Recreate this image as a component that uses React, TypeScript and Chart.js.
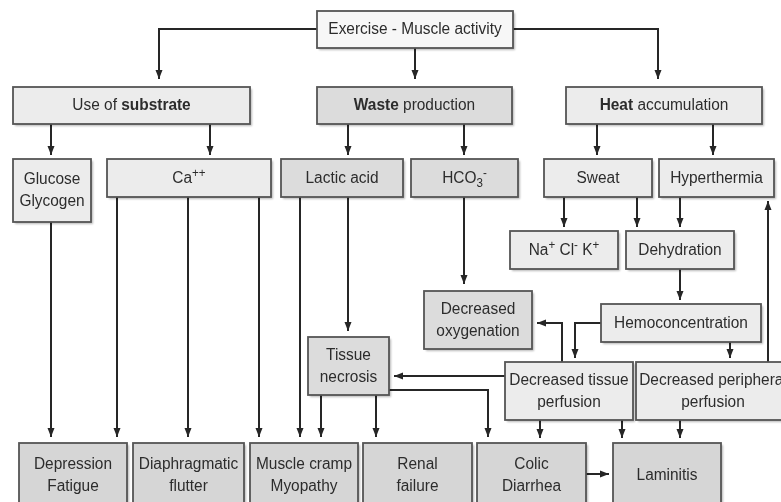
import React, { useEffect, useRef } from "react";
import { Chart, registerables } from "chart.js";

Chart.register(...registerables);

// ---- Data: flowchart nodes (label markup: *bold*, ^{sup}, _{sub}, \n new line)
const nodeLabels: string[] = [
  "Exercise - Muscle activity",
  "Use of *substrate*",
  "*Waste* production",
  "*Heat* accumulation",
  "Glucose\nGlycogen",
  "Ca^{++}",
  "Lactic acid",
  "HCO_{3}^{-}",
  "Sweat",
  "Hyperthermia",
  "Na^{+} Cl^{-} K^{+}",
  "Dehydration",
  "Hemoconcentration",
  "Decreased\noxygenation",
  "Tissue\nnecrosis",
  "Decreased tissue\nperfusion",
  "Decreased peripheral\nperfusion",
  "Depression\nFatigue",
  "Diaphragmatic\nflutter",
  "Muscle cramp\nMyopathy",
  "Renal\nfailure",
  "Colic\nDiarrhea",
  "Laminitis",
];
const nodeLeft: number[] = [317, 13, 317, 566, 13, 107, 281, 411, 544, 659, 510, 626, 601, 424, 308, 505, 636, 19, 133, 250, 363, 477, 613];
const nodeTop: number[] = [11, 87, 87, 87, 159, 159, 159, 159, 159, 159, 231, 231, 304, 291, 337, 362, 362, 443, 443, 443, 443, 443, 443];
const nodeRight: number[] = [513, 250, 512, 762, 91, 271, 403, 518, 652, 774, 618, 734, 761, 532, 389, 633, 790, 127, 244, 358, 472, 586, 721];
const nodeBottom: number[] = [48, 124, 124, 124, 222, 197, 197, 197, 197, 197, 269, 269, 342, 349, 395, 420, 420, 507, 507, 507, 507, 507, 507];
const nodeTone: number[] = [0, 1, 2, 1, 1, 1, 2, 2, 1, 1, 1, 1, 1, 2, 2, 1, 1, 3, 3, 3, 3, 3, 3];

// ---- Data: connectors (polylines, arrow at final point)
const edges: number[][][] = [
  [[317, 29], [159, 29], [159, 79]],
  [[415, 48], [415, 79]],
  [[513, 29], [658, 29], [658, 79]],
  [[51, 124], [51, 155]],
  [[210, 124], [210, 155]],
  [[348, 124], [348, 155]],
  [[464, 124], [464, 155]],
  [[597, 124], [597, 155]],
  [[713, 124], [713, 155]],
  [[564, 197], [564, 227]],
  [[637, 197], [637, 227]],
  [[680, 197], [680, 227]],
  [[680, 269], [680, 300]],
  [[464, 197], [464, 284]],
  [[601, 323], [575, 323], [575, 358]],
  [[730, 342], [730, 358]],
  [[562, 362], [562, 323], [537, 323]],
  [[768, 362], [768, 201]],
  [[505, 376], [394, 376]],
  [[348, 197], [348, 331]],
  [[389, 390], [488, 390], [488, 437]],
  [[321, 395], [321, 437]],
  [[376, 395], [376, 437]],
  [[300, 197], [300, 437]],
  [[117, 197], [117, 437]],
  [[188, 197], [188, 437]],
  [[259, 197], [259, 437]],
  [[51, 222], [51, 437]],
  [[540, 420], [540, 438]],
  [[622, 420], [622, 438]],
  [[680, 420], [680, 438]],
  [[586, 474], [609, 474]],
];

const toneFill = ["#f7f7f7", "#ececec", "#dcdcdc", "#d6d6d6"];
const FONT_FAMILY = '"Liberation Sans", Arial, Helvetica, sans-serif';
const FONT_SIZE = 16;
const X_SQUEEZE = 0.965;
const LINE_GAP = 22;
const INK = "#2c2c2c";

type Seg = { text: string; bold: boolean; mode: "n" | "sup" | "sub" };

function parseLine(line: string): Seg[] {
  const segs: Seg[] = [];
  let bold = false;
  let buf = "";
  const flush = () => {
    if (buf) segs.push({ text: buf, bold, mode: "n" });
    buf = "";
  };
  for (let i = 0; i < line.length; i++) {
    const c = line[i];
    if (c === "*") {
      flush();
      bold = !bold;
    } else if ((c === "^" || c === "_") && line[i + 1] === "{") {
      flush();
      const end = line.indexOf("}", i);
      segs.push({ text: line.slice(i + 2, end), bold, mode: c === "^" ? "sup" : "sub" });
      i = end;
    } else {
      buf += c;
    }
  }
  flush();
  return segs;
}

function segFont(s: Seg) {
  const size = s.mode === "n" ? FONT_SIZE : Math.round(FONT_SIZE * 0.75);
  return `${s.bold ? "bold " : ""}${size}px ${FONT_FAMILY}`;
}

const flowPlugin = {
  id: "flowBoxes",
  afterDatasetsDraw(chart: any) {
    const { ctx, scales } = chart;
    const xs = scales.x;
    const ys = scales.y;
    const px = (v: number) => xs.getPixelForValue(v);
    const py = (v: number) => ys.getPixelForValue(v);

    // boxes
    for (let i = 0; i < nodeLabels.length; i++) {
      const x1 = px(nodeLeft[i]);
      const x2 = px(nodeRight[i]);
      const y1 = py(nodeTop[i]);
      const y2 = py(nodeBottom[i]);
      ctx.save();
      ctx.shadowColor = "rgba(0,0,0,0.28)";
      ctx.shadowBlur = 2;
      ctx.shadowOffsetX = 1.5;
      ctx.shadowOffsetY = 1.5;
      ctx.fillStyle = toneFill[nodeTone[i]];
      ctx.fillRect(x1, y1, x2 - x1, y2 - y1);
      ctx.restore();
      ctx.save();
      ctx.strokeStyle = "#555555";
      ctx.lineWidth = 1.8;
      ctx.strokeRect(x1, y1, x2 - x1, y2 - y1);
      ctx.restore();

      // text
      const lines = nodeLabels[i].split("\n");
      const cx = (x1 + x2) / 2;
      const cy = (y1 + y2) / 2;
      ctx.save();
      ctx.fillStyle = INK;
      ctx.textBaseline = "middle";
      ctx.textAlign = "left";
      lines.forEach((ln, li) => {
        const ly = cy + 0.5 + (li - (lines.length - 1) / 2) * LINE_GAP;
        const segs = parseLine(ln);
        let total = 0;
        const widths = segs.map((s) => {
          ctx.font = segFont(s);
          const w = ctx.measureText(s.text).width * X_SQUEEZE;
          total += w;
          return w;
        });
        let x = cx - total / 2;
        segs.forEach((s, si) => {
          ctx.font = segFont(s);
          const off = s.mode === "sup" ? -FONT_SIZE * 0.32 : s.mode === "sub" ? FONT_SIZE * 0.3 : 0;
          ctx.save();
          ctx.translate(x, ly + off);
          ctx.scale(X_SQUEEZE, 1);
          ctx.fillText(s.text, 0, 0);
          ctx.restore();
          x += widths[si];
        });
      });
      ctx.restore();
    }

    // arrowheads
    ctx.save();
    ctx.fillStyle = "#262626";
    for (const e of edges) {
      const a = e[e.length - 2];
      const b = e[e.length - 1];
      const ax = px(a[0]), ay = py(a[1]);
      const bx = px(b[0]), by = py(b[1]);
      const ang = Math.atan2(by - ay, bx - ax);
      const L = 9, W = 3.5;
      ctx.beginPath();
      ctx.moveTo(bx, by);
      ctx.lineTo(bx - L * Math.cos(ang) + W * Math.sin(ang), by - L * Math.sin(ang) - W * Math.cos(ang));
      ctx.lineTo(bx - L * Math.cos(ang) - W * Math.sin(ang), by - L * Math.sin(ang) + W * Math.cos(ang));
      ctx.closePath();
      ctx.fill();
    }
    ctx.restore();
  },
};

export default function App() {
  const ref = useRef<HTMLCanvasElement | null>(null);
  useEffect(() => {
    document.body.style.margin = "0";
    document.body.style.background = "#ffffff";
    const canvas = ref.current;
    if (!canvas) return;
    const chart = new Chart(canvas, {
      type: "scatter",
      data: {
        datasets: edges.map((e) => ({
          data: e.map(([x, y]) => ({ x, y })),
          showLine: true,
          borderColor: "#262626",
          borderWidth: 2,
          pointRadius: 0,
          pointHoverRadius: 0,
          fill: false,
          tension: 0,
          borderCapStyle: "butt" as const,
          borderJoinStyle: "miter" as const,
        })),
      },
      options: {
        animation: false,
        responsive: false,
        maintainAspectRatio: false,
        layout: { padding: 0 },
        events: [],
        scales: {
          x: { type: "linear", min: 0, max: 781, display: false },
          y: { type: "linear", min: 0, max: 502, reverse: true, display: false },
        },
        plugins: {
          legend: { display: false },
          tooltip: { enabled: false },
        },
      },
      plugins: [flowPlugin],
    });
    return () => chart.destroy();
  }, []);
  return (
    <div style={{ width: 781, height: 502, background: "#fff" }}>
      <canvas ref={ref} width={781} height={502} style={{ display: "block", width: 781, height: 502 }} />
    </div>
  );
}
